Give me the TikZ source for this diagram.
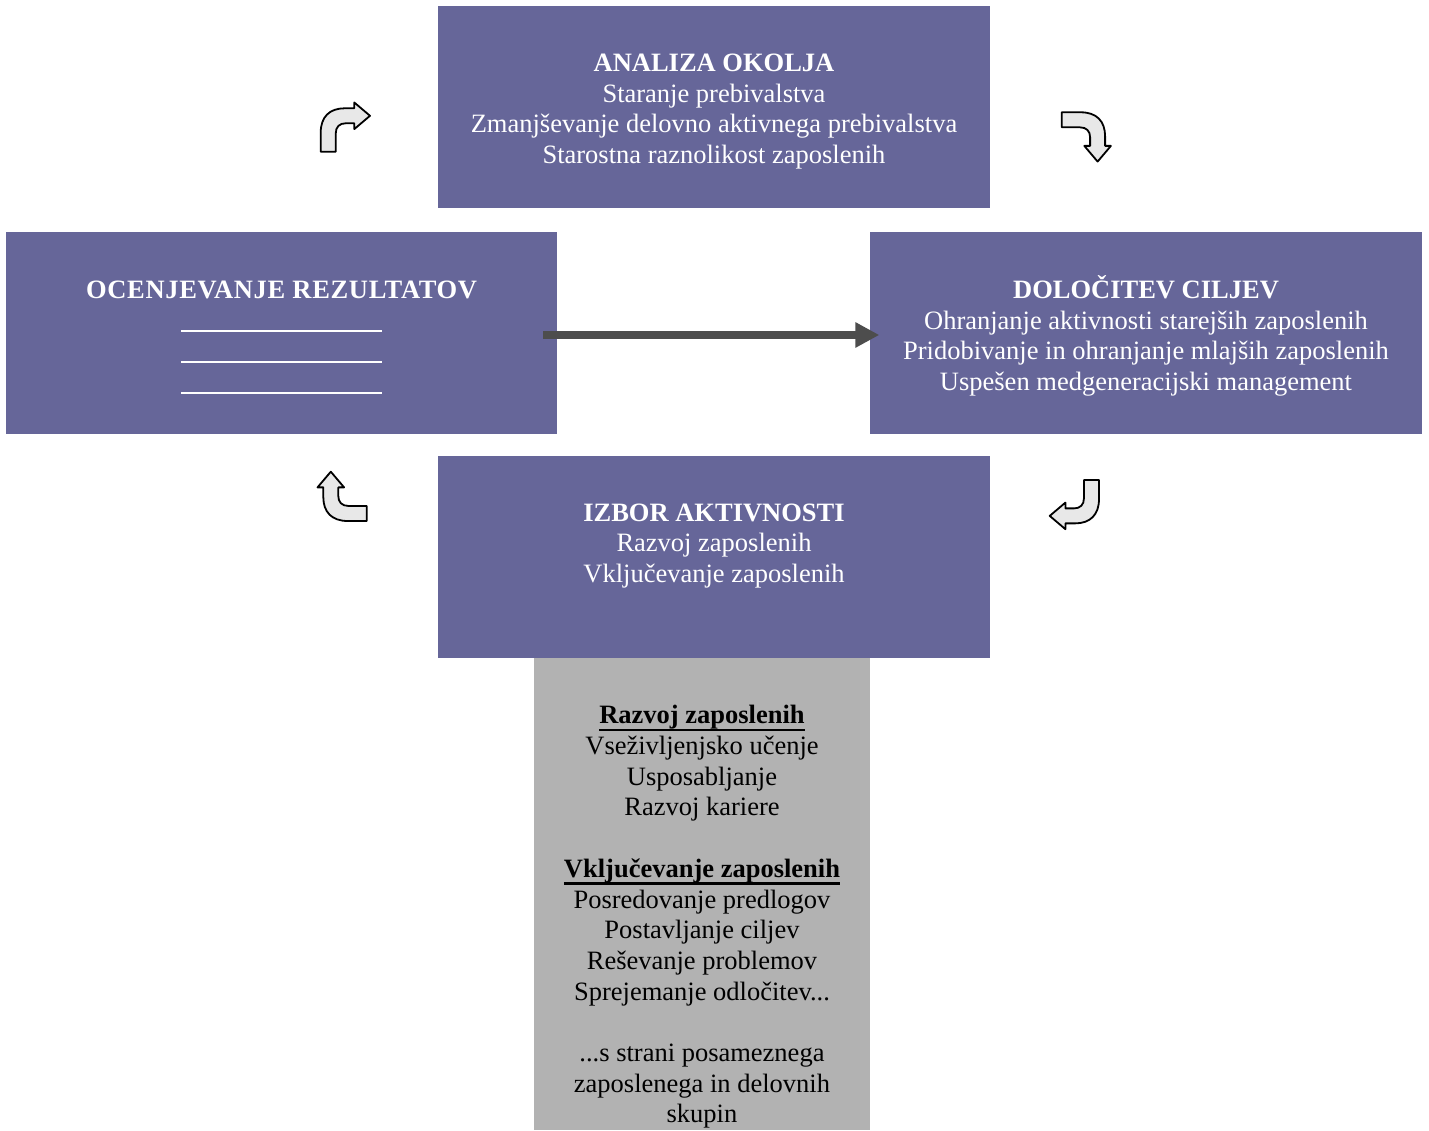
\documentclass[tikz,border=0pt]{standalone}
\usepackage{fontspec}
\setmainfont{Liberation Serif}
\usetikzlibrary{arrows.meta}
\definecolor{boxpurple}{RGB}{102,102,153}
\definecolor{boxgrey}{RGB}{178,178,178}
\definecolor{arrowfill}{RGB}{232,232,232}
\definecolor{arrowdark}{RGB}{77,77,77}
\newcommand{\thickul}[1]{\setbox0\hbox{#1}\rlap{\vrule height -4.8pt depth 7.3pt width \wd0}\box0}
\begin{document}
\begin{tikzpicture}[x=1pt,y=1pt,
  purplebox/.style={fill=boxpurple,draw=none,inner sep=0pt,minimum width=552pt,minimum height=202pt},
  wtext/.style={text=white,align=center,font=\fontsize{26.5}{30.7}\selectfont,inner sep=0pt},
  btext/.style={text=black,align=center,font=\fontsize{26.5}{30.7}\selectfont,inner sep=0pt},
  turnarrow/.pic={
    \draw[fill=arrowfill,draw=black,line width=1.8pt,line join=round]
      (0,0) -- (0,19) .. controls (0,35) and (9,43.4) .. (24,43.4)
      -- (33.6,43.4) -- (33.6,49.2) -- (49.3,35.9) -- (33.6,22.6) -- (33.6,28.4)
      -- (25,28.4) .. controls (19,28.4) and (15,25) .. (15,18) -- (15,0) -- cycle;
  }]
\useasboundingbox (0,0) rectangle (1429,1130);

% boxes
\node[purplebox] (top) at (714,1023) {};
\node[purplebox,minimum width=551pt] (left) at (281.5,797) {};
\node[purplebox] (right) at (1146,797) {};
\node[purplebox] (bottom) at (714,573) {};
\node[fill=boxgrey,draw=none,inner sep=0pt,minimum width=336pt,minimum height=472pt] (grey) at (702,236) {};

% texts
\node[wtext] (toptext) at (714,1018.5) {\textbf{ANALIZA OKOLJA}\\Staranje prebivalstva\\Zmanjševanje delovno aktivnega prebivalstva\\Starostna raznolikost zaposlenih};
\node[wtext] (lefttext) at (282,840) {\textbf{\addfontfeature{LetterSpace=2.5}OCENJEVANJE REZULTATOV}};
\coordinate (l1a) at (181,799); \coordinate (l1b) at (382,799);
\coordinate (l2a) at (181,768); \coordinate (l2b) at (382,768);
\coordinate (l3a) at (181,737); \coordinate (l3b) at (382,737);
\draw[white,line width=1.5pt] (l1a) -- (l1b);
\draw[white,line width=1.5pt] (l2a) -- (l2b);
\draw[white,line width=1.5pt] (l3a) -- (l3b);
\node[wtext] (righttext) at (1146,794) {\textbf{DOLOČITEV CILJEV}\\Ohranjanje aktivnosti starejših zaposlenih\\Pridobivanje in ohranjanje mlajših zaposlenih\\Uspešen medgeneracijski management};
\node[wtext] (bottomtext) at (714,584) {\textbf{IZBOR AKTIVNOSTI}\\Razvoj zaposlenih\\Vključevanje zaposlenih};
\node[btext] (greytext) at (702,213) {\textbf{\thickul{Razvoj zaposlenih}}\\Vseživljenjsko učenje\\Usposabljanje\\Razvoj kariere\\[30.7pt]\textbf{\thickul{Vključevanje zaposlenih}}\\Posredovanje predlogov\\Postavljanje ciljev\\Reševanje problemov\\Sprejemanje odločitev...\\[30.7pt]...s strani posameznega\\zaposlenega in delovnih\\skupin};

% middle arrow
\coordinate (ma) at (543,795);
\coordinate (mb) at (879.3,795);
\draw[arrowdark,line width=8pt,-{Triangle[length=24pt,width=24pt]}] (ma) -- (mb);

% turn arrows
\pic at (320.7,978.3) {turnarrow};
\pic[rotate=-90] at (1061.7,1017.7) {turnarrow};
\pic[rotate=90] at (366.7,609) {turnarrow};
\pic[rotate=180] at (1099,650) {turnarrow};
\end{tikzpicture}
\end{document}
